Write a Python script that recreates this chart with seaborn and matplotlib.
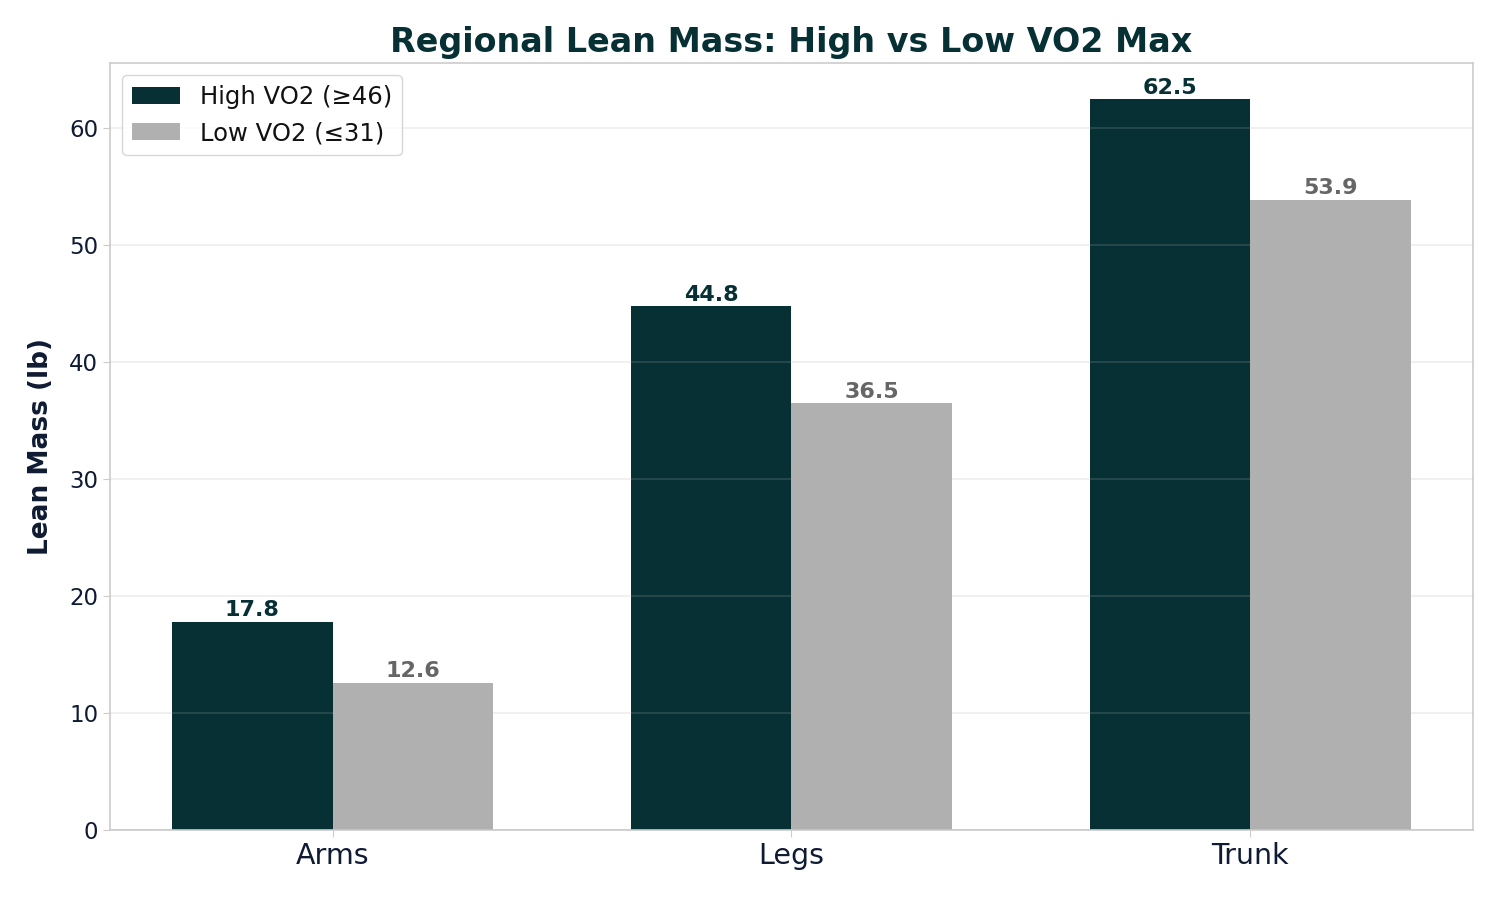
import matplotlib
matplotlib.use("Agg")
import matplotlib.pyplot as plt
import seaborn as sns
import pandas as pd

regions = ["Arms", "Legs", "Trunk"]
high_vo2 = [17.8, 44.8, 62.5]
low_vo2 = [12.6, 36.5, 53.9]
series_names = ["High VO2 (≥46)", "Low VO2 (≤31)"]

df = pd.DataFrame({
    "Region": regions * 2,
    "Mass": high_vo2 + low_vo2,
    "Group": [series_names[0]] * 3 + [series_names[1]] * 3,
})

sns.set_style("white")
plt.rcParams['font.family'] = ['DejaVu Sans']

dark = "#063034"
gray = "#b0b0b0"
textc = "#0f1a33"

fig, ax = plt.subplots(figsize=(15, 9), dpi=100)
sns.barplot(data=df, x="Region", y="Mass", hue="Group", order=regions,
            hue_order=series_names, palette=[dark, gray], width=0.7,
            saturation=1, errorbar=None, ax=ax, zorder=2, linewidth=0)

label_colors = [dark, "#666666"]
for cont, col in zip(ax.containers, label_colors):
    ax.bar_label(cont, fmt="%.1f", padding=1, fontsize=16, fontweight="bold", color=col)

ax.set_xlim(-0.485, 2.485)
ax.set_ylim(0, 65.6)
ax.set_axisbelow(False)
ax.yaxis.grid(True, color="#b0b0b0", alpha=0.22, linewidth=1.2)
ax.xaxis.grid(False)

ax.set_title("Regional Lean Mass: High vs Low VO2 Max", fontsize=24, fontweight="bold", color=dark, pad=8)
ax.set_ylabel("Lean Mass (lb)", fontsize=19, fontweight="bold", color=textc, labelpad=11)
ax.set_xlabel("")
ax.tick_params(axis="x", labelsize=20.5, colors=textc, length=5, color="#cccccc", pad=4)
ax.tick_params(axis="y", labelsize=16.5, colors=textc, length=5, color="#cccccc")
ax.tick_params(left=True, bottom=True)
for s in ax.spines.values():
    s.set_color("#cccccc")
    s.set_linewidth(1.2)

leg = ax.legend(loc="upper left", fontsize=17.5, frameon=True, handlelength=2.0,
                borderpad=0.4, labelspacing=0.5)
leg.get_frame().set_edgecolor("#cccccc")
for t in leg.get_texts():
    t.set_color("#111111")

fig.subplots_adjust(left=0.0733, right=0.982, top=0.93, bottom=0.078)
fig.savefig("out.png", dpi=100)
